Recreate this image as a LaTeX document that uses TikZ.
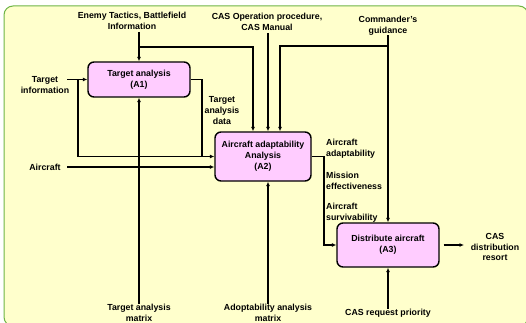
\documentclass[tikz,border=0pt]{standalone}
\usepackage{fontspec}
\setmainfont{Liberation Sans}
\usetikzlibrary{arrows.meta}
\definecolor{bgyellow}{RGB}{255,255,204}
\definecolor{bggreen}{RGB}{110,180,70}
\definecolor{boxpink}{RGB}{255,204,255}
\begin{document}
\begin{tikzpicture}[x=1pt,y=-1pt,
  font=\fontsize{8.8}{10.8}\selectfont\bfseries,
  proc/.style={draw=black,line width=1.4pt,fill=boxpink,rounded corners=6pt,align=center,inner sep=0pt},
  lbl/.style={align=center,inner sep=0pt},
  lbll/.style={align=left,inner sep=0pt,anchor=west},
  conn/.style={line width=1.3pt},
  arr/.style={conn,-{Latex[length=4.5pt,width=4pt]}}]
\useasboundingbox (0,0) rectangle (526,323);
\draw[fill=bgyellow,draw=bggreen,line width=1pt,rounded corners=9pt] (4,6) rectangle (528,326);
% process boxes
\node[proc,minimum width=102pt,minimum height=35pt] (A1) at (139,79.5) {Target analysis\\(A1)};
\node[proc,minimum width=96pt,minimum height=49pt] (A2) at (263,156.5) {Aircraft adaptability\\Analysis\\(A2)};
\node[proc,minimum width=102pt,minimum height=44pt] (A3) at (388,245) {Distribute aircraft\\(A3)};
% labels
\node[lbl] (enemy) at (132,21) {Enemy Tactics, Battlefield\\Information};
\node[lbl] (casop) at (267,22) {CAS Operation procedure,\\CAS Manual};
\node[lbl] (cmd) at (388,25.5) {Commander's\\guidance};
\node[lbl] (tinfo) at (45,85) {Target\\information};
\node[lbl] (aircraft) at (45,167) {Aircraft};
\node[lbl] (tam) at (139,313) {Target analysis\\matrix};
\node[lbl] (aam) at (268,312.5) {Adoptability analysis\\matrix};
\node[lbl] (crp) at (388,313) {CAS request priority};
\node[lbl] (cdr) at (495,247) {CAS\\distribution\\resort};
\node[lbl] (tad) at (222,110.5) {Target\\analysis\\data};
\node[lbll] (ada) at (326,148.5) {Aircraft\\adaptability};
\node[lbll] (me) at (326,180.5) {Mission\\effectiveness};
\node[lbll] (as) at (326,212.5) {Aircraft\\survivability};
% junction coordinates
\coordinate (ctl1) at (0,47);
\coordinate (ctl3) at (0,46);
\coordinate (instart) at (67,0);
\coordinate (split) at (78,0);
\coordinate (a1out) at (202,0);
\coordinate (a2out) at (324,0);
\coordinate (outend) at (464,245);
% controls
\draw[arr] ([yshift=-2pt]A1.north |- enemy.south) -- (A1.north);
\draw[arr] (A1.north |- ctl1) -| ([xshift=-10pt]A2.north);
\draw[arr] ([xshift=5pt,yshift=-2pt]A2.north |- casop.south) -- ([xshift=5pt]A2.north);
\draw[arr] (cmd.south) -- (A3.north);
\draw[arr] (A3.north |- ctl3) -| ([xshift=17pt]A2.north);
% inputs
\draw[arr] (instart |- A1.west) -- (A1.west);
\draw[arr] (split |- A1.west) |- (A2.west);
\draw[conn] (A1.east) -| (a1out |- A2.west);
\draw[arr] (instart |- aircraft.east) -- (aircraft.east -| A2.west);
% mechanisms
\draw[arr] (tam.north) -- (A1.south);
\draw[arr] (aam.north) -- (aam.north |- A2.south);
\draw[arr] (crp.north) -- (A3.south);
% outputs
\draw[arr] (A2.east) -| (a2out |- A3.west) -- (A3.west);
\draw[arr] ([xshift=4pt]A3.east) -- (outend);
\end{tikzpicture}
\end{document}
